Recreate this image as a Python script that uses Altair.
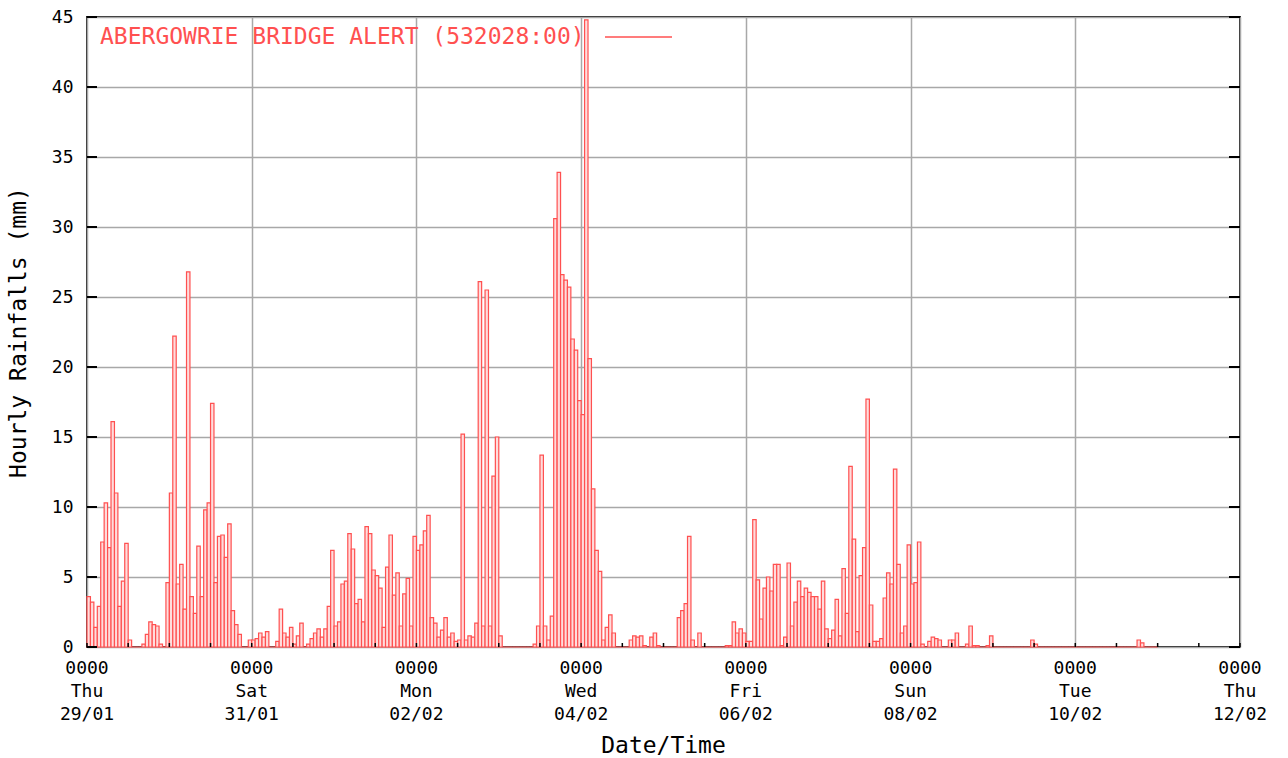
import altair as alt
import pandas as pd

# ---- data (hourly rainfall, mm), hour 0 = 0000 Thu 29/01 ----
day1 = [3.6, 3.2, 1.4, 2.9, 7.5, 10.3, 7.1, 16.1, 11.0, 2.9, 4.7, 7.4,
        0.5, 0, 0, 0, 0.2, 0.9, 1.8, 1.6, 1.5, 0.2, 0, 4.6,
        11.0, 22.2, 4.5, 5.9, 2.7, 26.8, 3.6, 2.4, 7.2, 3.6, 9.8, 10.3,
        17.4, 4.6, 7.9, 8.0, 6.4, 8.8, 2.6, 1.6, 0.9, 0, 0, 0.5]
day2 = [0.5, 0.6, 1.0, 0.7, 1.1, 0, 0, 0.4, 2.7, 1.0, 0.7, 1.4,
        0.2, 0.8, 1.7, 0, 0.2, 0.6, 1.0, 1.3, 0.7, 1.3, 2.9, 6.9,
        1.5, 1.8, 4.5, 4.7, 8.1, 7.0, 3.1, 3.4, 1.8, 8.6, 8.1, 5.5,
        5.1, 4.2, 1.4, 5.7, 8.0, 3.7, 5.3, 1.5, 3.8, 4.9, 1.5, 7.9]
day3 = [6.9, 7.3, 8.3, 9.4, 2.1, 1.7, 0.7, 1.2, 2.1, 0.7, 1.0, 0.4,
        0.5, 15.2, 0.5, 0.8, 0.7, 1.7, 26.1, 1.5, 25.5, 1.5, 12.2, 15.0,
        0.8, 0, 0, 0, 0, 0, 0, 0, 0, 0, 0.2, 1.5,
        13.7, 1.5, 0.5, 2.2, 30.6, 33.9, 26.6, 26.2, 25.7, 22.0, 21.2, 17.6]
day4 = [16.6, 44.8, 20.6, 11.3, 6.9, 5.4, 0.5, 1.4, 2.3, 1.0, 0, 0,
        0, 0, 0.5, 0.8, 0.7, 0.8, 0.1, 0, 0.7, 1.0, 0.1, 0,
        0, 0, 0, 0, 2.1, 2.6, 3.1, 7.9, 0.5, 0, 1.0, 0,
        0, 0, 0, 0, 0, 0, 0.1, 0.1, 1.8, 1.0, 1.3, 1.0]
day5 = [0.4, 0.4, 9.1, 4.8, 2.0, 4.2, 5.0, 4.0, 5.9, 5.9, 0.1, 0.7,
        6.0, 1.5, 3.2, 4.7, 3.6, 4.2, 3.9, 3.6, 3.6, 2.7, 4.7, 1.3,
        0.6, 1.2, 3.4, 0.8, 5.6, 2.4, 12.9, 7.7, 1.1, 5.1, 7.1, 17.7,
        3.0, 0.4, 0.4, 0.6, 3.5, 5.3, 4.5, 12.7, 5.9, 1.0, 1.5, 7.3]
day6 = [4.5, 4.6, 7.5, 0.2, 0, 0.4, 0.7, 0.6, 0.5, 0, 0, 0.5,
        0.5, 1.0, 0, 0, 0.2, 1.5, 0.1, 0.1, 0, 0, 0.1, 0.8,
        0, 0, 0, 0, 0, 0, 0, 0, 0, 0, 0, 0.5,
        0.2, 0, 0, 0, 0, 0, 0, 0, 0, 0, 0, 0]
day7 = [0, 0, 0, 0, 0, 0, 0, 0, 0, 0, 0, 0,
        0, 0, 0, 0, 0, 0, 0.5, 0.3, 0, 0, 0, 0]

rain = day1 + day2 + day3 + day4 + day5 + day6 + day7
hours = list(range(len(rain)))

tick_hours = [0, 48, 96, 144, 192, 240, 288, 336]
tick_time = ["0000"] * 8
tick_day = ["Thu", "Sat", "Mon", "Wed", "Fri", "Sun", "Tue", "Thu"]
tick_date = ["29/01", "31/01", "02/02", "04/02", "06/02", "08/02", "10/02", "12/02"]
y_ticks = [0, 5, 10, 15, 20, 25, 30, 35, 40, 45]
minor_hours = list(range(0, 337, 12))
legend_label = "ABERGOWRIE BRIDGE ALERT (532028:00)"

# ---- styling ----
RED = "#ff5050"
GRID = "#a8a8a8"
MONO = "DejaVu Sans Mono"
W, H = 1153, 630

df = pd.DataFrame({"hour": hours, "hour_end": [h + 1 for h in hours], "rain": rain})
lab_df = pd.DataFrame({
    "hour": tick_hours,
    "lab": [f"{a}\n{b}\n{c}" for a, b, c in zip(tick_time, tick_day, tick_date)],
})
yt_df = pd.DataFrame({"rain": y_ticks})
xt_df = pd.DataFrame({"hour": minor_hours})
one = pd.DataFrame({"t": [legend_label]})

xscale = alt.Scale(domain=[0, 336], nice=False, zero=False)
yscale = alt.Scale(domain=[0, 45], nice=False)

xaxis = alt.Axis(values=tick_hours, labels=False, ticks=False, domain=False,
                 grid=True, gridColor=GRID, gridWidth=1.5,
                 title="Date/Time", titleFont=MONO, titleFontSize=23,
                 titleFontWeight="normal", titleColor="black",
                 titleX=576, titleY=98, titleBaseline="middle", titleAlign="center")
yaxis = alt.Axis(values=y_ticks, ticks=False, domain=False,
                 grid=True, gridColor=GRID, gridWidth=1.5,
                 labelFont=MONO, labelFontSize=18, labelColor="black", labelPadding=14,
                 title="Hourly Rainfalls (mm)", titleFont=MONO, titleFontSize=23,
                 titleFontWeight="normal", titleColor="black", titleAngle=270,
                 titleX=-69, titleY=315, titleBaseline="middle", titleAlign="center")


def X(field):
    return alt.X(field, scale=xscale, axis=xaxis)


def Y(field):
    return alt.Y(field, scale=yscale, axis=yaxis)


bars = alt.Chart(df).mark_rect(fill="#ffdcdc", stroke=RED, strokeWidth=1.2).encode(
    x=X("hour:Q"), x2="hour_end", y=Y("rain:Q"), y2=alt.datum(0))

ltick = alt.Chart(yt_df).mark_rule(color="black", strokeWidth=2).encode(
    y=Y("rain:Q"), x=alt.value(0), x2=alt.value(10))
rtick = alt.Chart(yt_df).mark_rule(color="black", strokeWidth=2).encode(
    y=Y("rain:Q"), x=alt.value(W - 11), x2=alt.value(W))
btick = alt.Chart(xt_df).mark_rule(color="black", strokeWidth=1.5).encode(
    x=X("hour:Q"), y=alt.value(H - 4), y2=alt.value(H))

labels = alt.Chart(lab_df).mark_text(font=MONO, fontSize=18, lineBreak="\n", lineHeight=23,
                                     baseline="top", align="center", color="black").encode(
    x=X("hour:Q"), y=alt.value(H + 13), text="lab:N")

legend_text = alt.Chart(one).mark_text(font=MONO, fontSize=23, color=RED, align="left",
                                       baseline="middle").encode(
    text="t:N", x=alt.value(13), y=alt.value(20))
legend_line = alt.Chart(one).mark_rule(color=RED, strokeWidth=1.5).encode(
    x=alt.value(518), x2=alt.value(585), y=alt.value(20))

chart = alt.layer(bars, ltick, rtick, btick, labels, legend_text, legend_line).properties(
    width=W, height=H,
    padding={"left": 87, "top": 17, "right": 48, "bottom": 111},
    autosize=alt.AutoSizeParams(type="none"),
    background="white",
).configure_view(stroke="#222222", strokeWidth=2)

chart.save("out.html", embed_options={"renderer": "svg", "actions": False})
